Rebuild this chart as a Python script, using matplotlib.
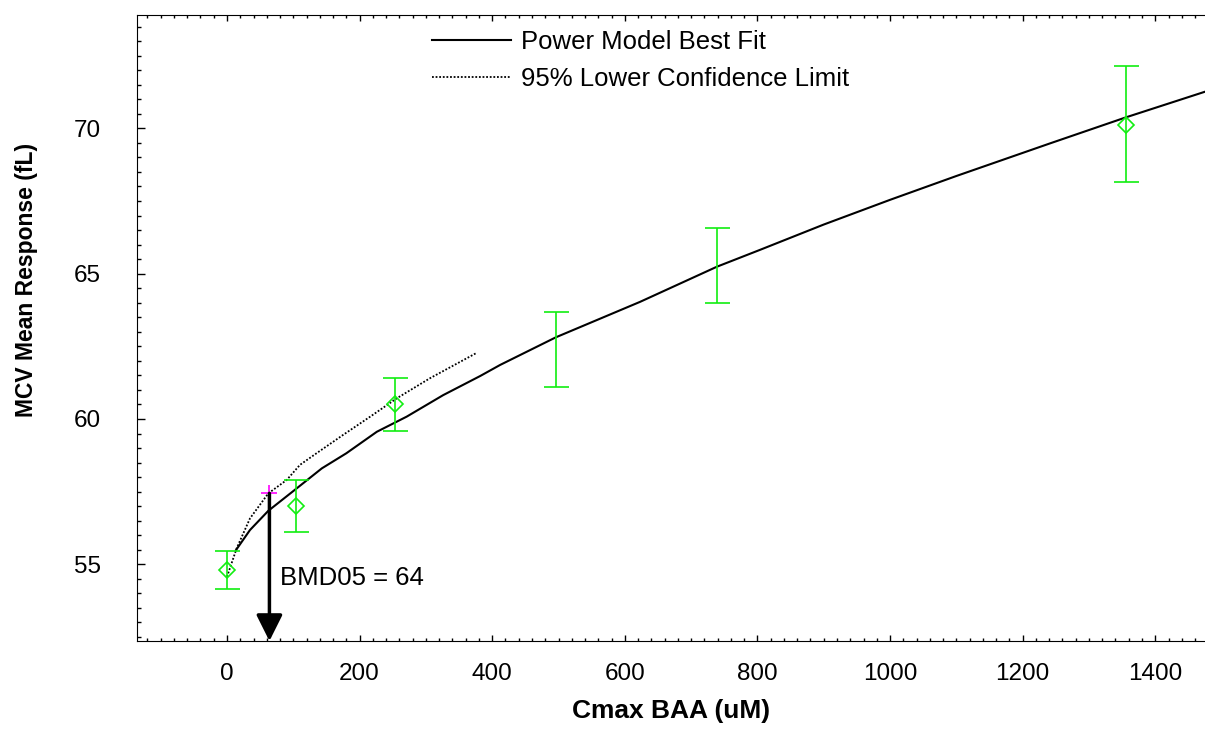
import matplotlib
matplotlib.use('Agg')
import matplotlib.pyplot as plt
from matplotlib.ticker import MultipleLocator

plt.rcParams['font.family'] = ['Liberation Sans', 'DejaVu Sans']

# observed group means with error bars
dose = [0, 104, 253, 496, 739, 1356]
mean_response = [54.80, 57.00, 60.51, 62.39, 65.28, 70.11]
err_lower = [54.14, 56.10, 59.59, 61.11, 64.00, 68.14]
err_upper = [55.47, 57.90, 61.40, 63.67, 66.57, 72.14]
show_marker = [True, True, True, False, False, True]

# power model best fit
fit_dose = [13.6, 34.7, 62.3, 105, 143, 180, 226, 271, 326, 382, 412,
            496, 623, 739, 804, 900, 1000, 1100, 1241, 1356, 1475]
fit_response = [55.49, 56.18, 56.84, 57.61, 58.30, 58.82, 59.56, 60.08, 60.82,
                61.48, 61.86, 62.81, 64.03, 65.24, 65.82, 66.69, 67.54, 68.36,
                69.48, 70.38, 71.26]

# 95% lower confidence limit curve
bmdl_dose = [0, 14.6, 34.7, 62.3, 90, 110, 135, 175, 216, 256, 306, 377]
bmdl_response = [54.57, 55.55, 56.58, 57.44, 57.90, 58.42, 58.82, 59.45,
                 60.08, 60.71, 61.40, 62.28]

bmd = 64
bmd_response = 57.44
bmd_label = 'BMD05 = 64'

green = '#11ee11'

fig = plt.figure(figsize=(12.05, 7.38), dpi=100)
ax = fig.add_axes([0.1137, 0.1314, 0.8863, 0.8479])

ax.plot(fit_dose, fit_response, color='black', lw=1.5, label='Power Model Best Fit')
ax.plot(bmdl_dose, bmdl_response, color='black', lw=1.3, linestyle=(0, (1, 1)),
        label='95% Lower Confidence Limit')

for i in range(len(dose)):
    yerr = [[mean_response[i] - err_lower[i]], [err_upper[i] - mean_response[i]]]
    ax.errorbar([dose[i]], [mean_response[i]], yerr=yerr, fmt='none', ecolor=green,
                elinewidth=1.2, capsize=9, capthick=1.2)
    if show_marker[i]:
        ax.plot(dose[i], mean_response[i], 'D', mfc='none', mec=green, ms=8.5, mew=1.2)

ax.set_xlim(-135.7, 1475)
ax.set_ylim(52.36, 73.89)

ax.plot(bmd, bmd_response, '+', color='magenta', ms=11, mew=1.2)
ax.annotate('', xy=(bmd, 52.36), xytext=(bmd, bmd_response),
            arrowprops=dict(arrowstyle='-|>,head_length=0.8,head_width=0.4',
                            lw=2.5, color='black', mutation_scale=20,
                            shrinkA=0, shrinkB=0))
ax.text(bmd + 16, 54.53, bmd_label, fontsize=18.5, va='center', ha='left')

ax.xaxis.set_major_locator(MultipleLocator(200))
ax.xaxis.set_minor_locator(MultipleLocator(20))
ax.yaxis.set_major_locator(MultipleLocator(5))
ax.yaxis.set_minor_locator(MultipleLocator(0.5))
ax.tick_params(axis='x', which='both', direction='in', top=True, labelsize=17.5, pad=16)
ax.tick_params(axis='x', which='major', length=4.5, width=1)
ax.tick_params(axis='x', which='minor', length=2.2, width=1)
ax.tick_params(axis='y', which='both', direction='in', right=False, labelsize=17.5, pad=26)
ax.tick_params(axis='y', which='major', length=5.5, width=1)
ax.tick_params(axis='y', which='minor', length=3, width=1)
ax.spines['right'].set_visible(False)

ax.set_xlabel('Cmax BAA (uM)', fontsize=19, fontweight='bold')
ax.set_ylabel('MCV Mean Response (fL)', fontsize=16.5, fontweight='bold')
ax.xaxis.set_label_coords(0.5, -0.093)
ax.yaxis.set_label_coords(-0.093, 0.577)

ax.legend(loc='upper left', bbox_to_anchor=(0.276, 0.977), frameon=False,
          fontsize=18.5, handlelength=3.1, handletextpad=0.39, labelspacing=0.5,
          borderpad=0, borderaxespad=0)

plt.savefig('out.png')
plt.close()
